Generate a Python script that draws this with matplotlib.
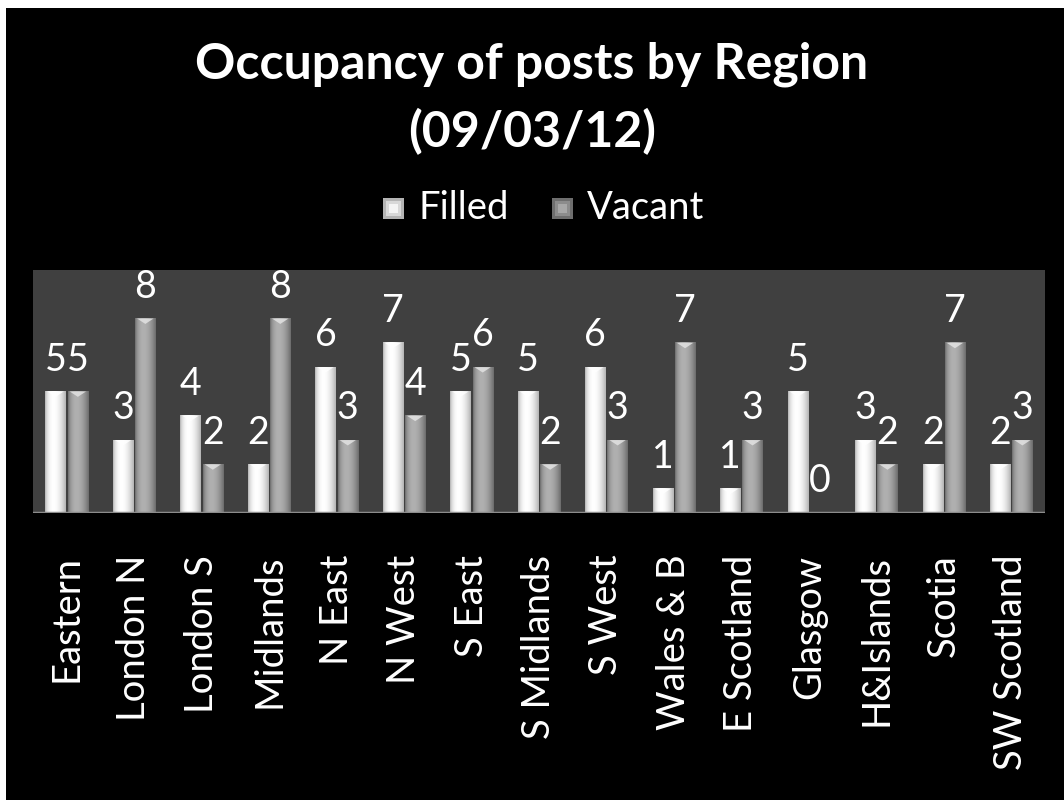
import numpy as np
import matplotlib.pyplot as plt
from matplotlib.patches import Rectangle, Polygon
from matplotlib.colors import LinearSegmentedColormap

regions = ["Eastern", "London N", "London S", "Midlands", "N East", "N West",
           "S East", "S Midlands", "S West", "Wales & B", "E Scotland",
           "Glasgow", "H&Islands", "Scotia", "SW Scotland"]
filled = [5, 3, 4, 2, 6, 7, 5, 5, 6, 1, 1, 5, 3, 2, 2]
vacant = [5, 8, 2, 8, 3, 4, 6, 2, 3, 7, 3, 0, 2, 7, 3]

plt.rcParams['font.family'] = ['Lato', 'DejaVu Sans']

fig = plt.figure(figsize=(10.64, 8), dpi=100, facecolor='white')
# black slide background, white edge on the left and top
fig.patches.append(Rectangle((6 / 1064, 0), 1, 1 - 8 / 800, transform=fig.transFigure,
                             facecolor='black', edgecolor='none', zorder=-10))

ax = fig.add_axes([33 / 1064, 1 - 513 / 800, 1012 / 1064, 243 / 800])
ax.set_facecolor('#404040')

# cylinder-like shading across each bar
t = np.linspace(0, 1, 64)
shade = np.where(t < 0.4, np.sin(np.pi * t / 0.8) ** 0.5,
                 np.cos(np.pi * (t - 0.4) / 1.25) ** 0.8)
grad = shade[np.newaxis, :]

cm_filled = LinearSegmentedColormap.from_list('f', ['#a8a8a8', '#ffffff'])
cm_vacant = LinearSegmentedColormap.from_list('v', ['#626262', '#b0b0b0'])

x = np.arange(len(regions))
width = 0.3
off = 0.165

for series, dx, cmap, top_col in [(filled, -off, cm_filled, '#ffffff'),
                                  (vacant, off, cm_vacant, '#e6e6e6')]:
    bars = ax.bar(x + dx, series, width, color='none', edgecolor='none')
    for b, v in zip(bars, series):
        x0 = b.get_x()
        x1 = x0 + b.get_width()
        if v > 0:
            ax.imshow(grad, cmap=cmap, vmin=0, vmax=1, aspect='auto',
                      extent=[x0, x1, 0, v], zorder=2, interpolation='bicubic')
            tri = Polygon([[x0 + 0.03, v], [x1 - 0.03, v],
                           [(x0 + x1) / 2, v - 0.22]],
                          closed=True, facecolor=top_col, edgecolor='none',
                          alpha=0.8, zorder=3)
            ax.add_patch(tri)
        ax.annotate(str(v), (x0 + b.get_width() / 2, v), xytext=(0, 15),
                    textcoords='offset points', ha='center', va='baseline',
                    color='white', fontsize=27, zorder=4)

ax.axhline(0, color='#8c8c8c', lw=2.5, zorder=5)
ax.set_xlim(-0.5, len(regions) - 0.5)
ax.set_ylim(0, 10)
ax.set_yticks([])
ax.set_xticks(x)
ax.set_xticklabels(regions, rotation=90, color='white', fontsize=27.5, va='top')
ax.tick_params(axis='x', length=0, pad=30)
for s in ax.spines.values():
    s.set_visible(False)

fig.text(0.5, 1 - 64 / 800, 'Occupancy of posts by Region', ha='center',
         va='center', color='white', fontsize=36, fontweight='bold')
fig.text(0.5, 1 - 132 / 800, '(09/03/12)', ha='center',
         va='center', color='white', fontsize=36, fontweight='bold')

# legend: bevelled squares drawn as nested rectangles
leg_items = [('Filled', 383, ['#b4b4b4', '#d8d8d8', '#f4f4f4']),
             ('Vacant', 552, ['#6e6e6e', '#8c8c8c', '#a8a8a8'])]
for name, px, cols in leg_items:
    for k, c in enumerate(cols):
        inset = 3 * k
        fig.patches.append(Rectangle(((px + inset) / 1064, (800 - 219 + inset) / 800),
                                     (21 - 2 * inset) / 1064, (21 - 2 * inset) / 800,
                                     transform=fig.transFigure, facecolor=c,
                                     edgecolor='none'))
    fig.text((px + 35) / 1064, 1 - 208 / 800, name, ha='left', va='center',
             color='white', fontsize=27.5)

fig.savefig('out.png', dpi=100, facecolor=fig.get_facecolor())
